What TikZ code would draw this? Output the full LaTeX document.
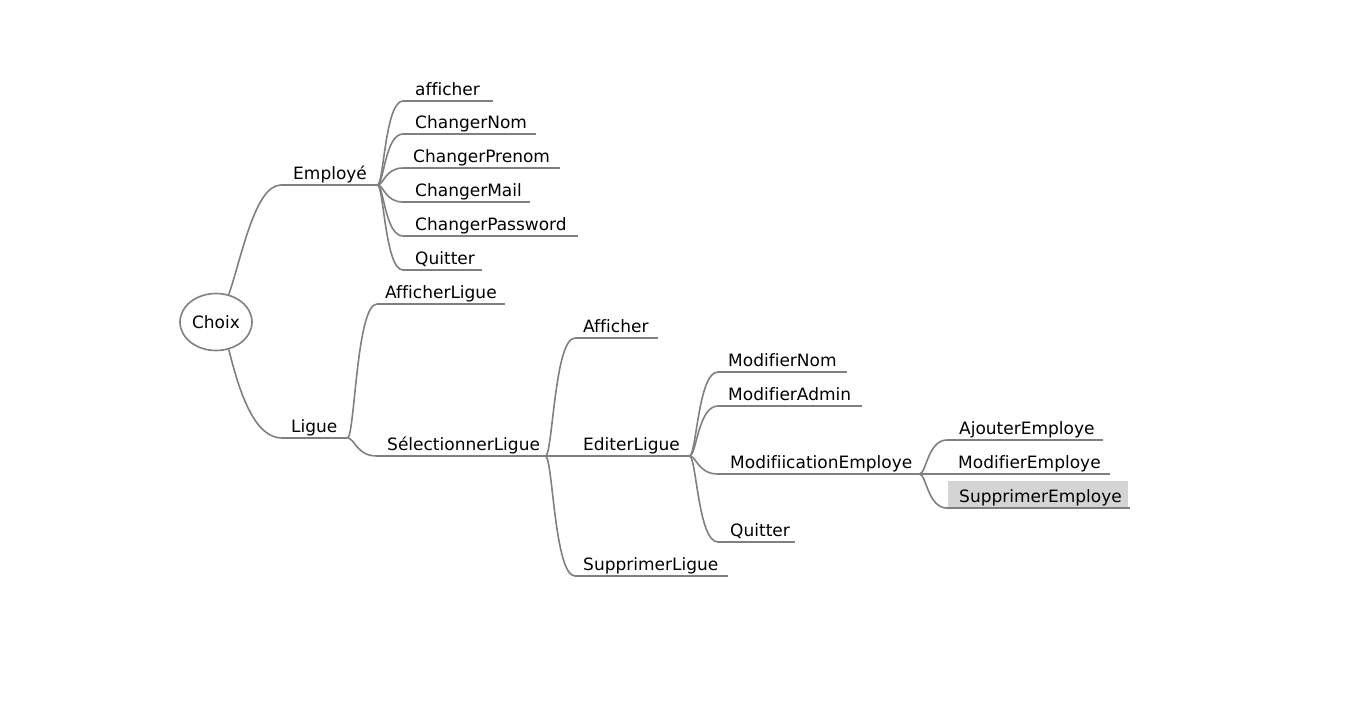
\documentclass[tikz,border=0pt]{standalone}
\usepackage{fontspec}
\setmainfont[Ligatures=NoCommon]{DejaVu Sans}
\usetikzlibrary{calc,shapes.geometric}
\definecolor{linegray}{RGB}{128,128,128}
\definecolor{selgray}{RGB}{212,212,212}
\tikzset{
  conn/.style={draw=linegray, line width=1.6pt},
  uline/.style={draw=linegray, line width=1.6pt},
  item/.style={anchor=south west, inner sep=0pt, text height=13pt, text depth=5pt},
  branch/.style={to path={let \p1=(\tikztostart), \p2=(\tikztotarget) in
     .. controls ({\x1+0.25*(\x2-\x1)},\y1) and ({\x1+0.3*(\x2-\x1)},\y2) .. (\tikztotarget)}},
}
\newcommand\mmitem[7][]{%
  \pgfmathsetmacro\mmw{#4-#3}%
  \node[item,#1] (#2) at (#3,#5) {\makebox[\mmw pt][l]{\hspace*{#6pt}#7}};
  \draw[uline] (#2.south west) -- (#2.south east);
}
\begin{document}
\begin{tikzpicture}[x=1pt,y=-1pt,font=\fontsize{17pt}{20pt}\selectfont]
\fill[white] (0,0) rectangle (1349,705);
\useasboundingbox (0,0) rectangle (1349,705);

\node[draw=linegray, line width=1.6pt, ellipse, minimum width=72pt, minimum height=57pt, inner sep=0pt] (choix) at (216,322) {Choix};

\fill[selgray] (948,481) rectangle (1128,507.5);

\mmitem{emp}{281}{377}{185}{12}{Employé}
\mmitem{e1}{403}{493}{101}{12}{afficher}
\mmitem{e2}{403}{536}{134}{12}{ChangerNom}
\mmitem{e3}{403}{560}{168}{10}{ChangerPrenom}
\mmitem{e4}{403}{530}{202}{12}{ChangerMail}
\mmitem{e5}{403}{578}{236}{12}{ChangerPassword}
\mmitem{e6}{403}{482}{270}{12}{Quitter}
\mmitem{lig}{282}{347}{438}{9}{Ligue}
\mmitem{l1}{377}{505}{304}{8}{AfficherLigue}
\mmitem{l2}{377}{545}{456}{10}{SélectionnerLigue}
\mmitem{s1}{575}{658}{338}{8}{Afficher}
\mmitem{s2}{575}{689}{456}{8}{EditerLigue}
\mmitem{s3}{575}{728}{576}{8}{SupprimerLigue}
\mmitem{d1}{718}{847}{372}{10}{ModifierNom}
\mmitem{d2}{718}{862}{406}{10}{ModifierAdmin}
\mmitem{d3}{718}{919}{474}{12}{ModifiicationEmploye}
\mmitem{d4}{718}{795}{542}{12}{Quitter}
\mmitem{m1}{947}{1103}{440}{12}{AjouterEmploye}
\mmitem{m2}{947}{1110}{474}{11}{ModifierEmploye}
\mmitem{m3}{947}{1130}{508}{12}{SupprimerEmploye}

\draw[conn] (choix.65) .. controls +(13,-38) and +(-26,0) .. (emp.south west);
\draw[conn] (choix.-65) .. controls +(11,45) and +(-27,0) .. (lig.south west);

\foreach \c in {e1,e2,e3,e4,e5,e6}
  \draw[conn] (emp.south east) to[branch] (\c.south west);
\foreach \c in {l1,l2}
  \draw[conn] (lig.south east) to[branch] (\c.south west);
\foreach \c in {s1,s2,s3}
  \draw[conn] (l2.south east) to[branch] (\c.south west);
\foreach \c in {d1,d2,d3,d4}
  \draw[conn] (s2.south east) to[branch] (\c.south west);
\foreach \c in {m1,m2,m3}
  \draw[conn] (d3.south east) to[branch] (\c.south west);
\end{tikzpicture}
\end{document}
